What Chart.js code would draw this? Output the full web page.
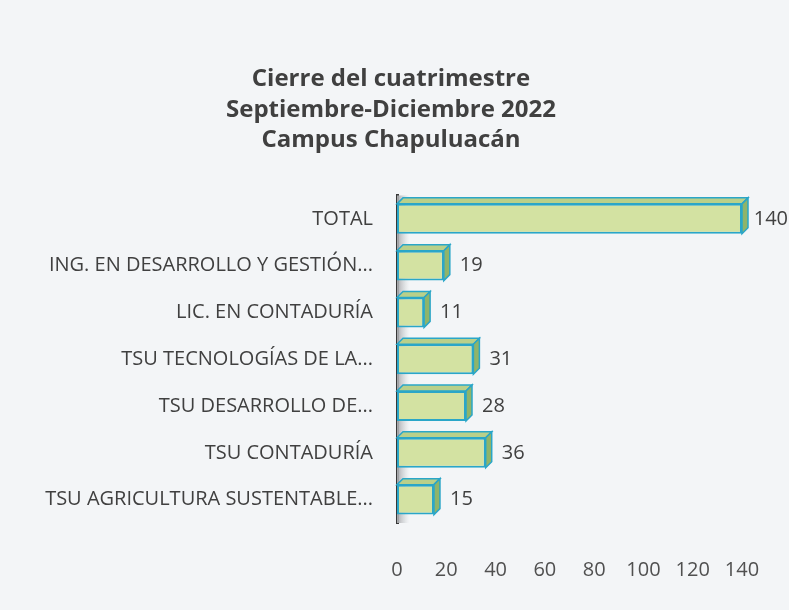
<!DOCTYPE html>
<html>
<head>
<meta charset="utf-8">
<script src="https://cdn.jsdelivr.net/npm/chart.js@4/dist/chart.umd.min.js"></script>
<style>
  body { margin: 0; background: #f3f5f7; }
  #wrap { width: 789px; height: 610px; }
</style>
</head>
<body>
<div id="wrap"><canvas id="chart-cierre" width="789" height="610"></canvas></div>
<script>
// categorias y valores
const carreras = [
    'TOTAL',
    'ING. EN DESARROLLO Y GESTIÓN...',
    'LIC. EN CONTADURÍA',
    'TSU TECNOLOGÍAS DE LA...',
    'TSU DESARROLLO DE...',
    'TSU CONTADURÍA',
    'TSU AGRICULTURA SUSTENTABLE...'
];
const alumnos = [140, 19, 11, 31, 28, 36, 15];
const titulo = ['Cierre del cuatrimestre', 'Septiembre-Diciembre 2022', 'Campus Chapuluacán'];
const ticksX = [0, 20, 40, 60, 80, 100, 120, 140];

const FUENTE = "'Open Sans', 'Noto Sans', sans-serif";
const prof = 6; // profundidad del efecto 3D

// pared gris junto al eje y caras laterales de las barras
const barras3d = {
    id: 'barras3d',
    beforeDatasetsDraw(chart) {
        const ctx = chart.ctx;
        const area = chart.chartArea;
        ctx.save();
        const g = ctx.createLinearGradient(area.left, 0, area.left + 12, 0);
        g.addColorStop(0, '#a9abae');
        g.addColorStop(1, 'rgba(200,202,205,0)');
        ctx.fillStyle = g;
        ctx.fillRect(area.left, area.top, 12, area.bottom - area.top);

        chart.getDatasetMeta(0).data.forEach(bar => {
            const p = bar.getProps(['x', 'y', 'base', 'height'], true);
            const x0 = p.base, x1 = p.x;
            const top = p.y - p.height / 2, bottom = p.y + p.height / 2;
            ctx.lineWidth = 1.5;
            ctx.strokeStyle = '#2aa6c8';
            // cara superior
            ctx.beginPath();
            ctx.moveTo(x0, top);
            ctx.lineTo(x0 + prof, top - prof);
            ctx.lineTo(x1 + prof, top - prof);
            ctx.lineTo(x1, top);
            ctx.closePath();
            ctx.fillStyle = '#b9d08a';
            ctx.fill();
            ctx.stroke();
            // cara derecha
            ctx.beginPath();
            ctx.moveTo(x1, top);
            ctx.lineTo(x1 + prof, top - prof);
            ctx.lineTo(x1 + prof, bottom - prof);
            ctx.lineTo(x1, bottom);
            ctx.closePath();
            ctx.fillStyle = '#8fb46a';
            ctx.fill();
            ctx.stroke();
        });
        ctx.restore();
    },
    afterDatasetsDraw(chart) {
        const ctx = chart.ctx;
        ctx.save();
        ctx.font = '20px ' + FUENTE;
        ctx.fillStyle = '#404040';
        ctx.textBaseline = 'middle';
        chart.getDatasetMeta(0).data.forEach((bar, i) => {
            const p = bar.getProps(['x', 'y'], true);
            const txt = String(alumnos[i]);
            // que no se salga del lienzo
            const x = Math.min(p.x + 16, chart.width - ctx.measureText(txt).width - 1);
            ctx.fillText(txt, x, p.y);
        });
        ctx.restore();
    }
};

const ctx = document.getElementById('chart-cierre').getContext('2d');

const chartCierre = new Chart(ctx, {
    type: 'bar',
    data: {
        labels: carreras,
        datasets: [{
            data: alumnos,
            backgroundColor: '#d3e2a2',
            borderColor: '#2aa6c8',
            borderWidth: 2,
            borderSkipped: false,
            barPercentage: 0.82,
            categoryPercentage: 0.78
        }]
    },
    options: {
        indexAxis: 'y',
        responsive: false,
        animation: false,
        layout: { padding: { top: 0, right: 47, bottom: 30, left: 40 } },
        plugins: {
            legend: { display: false },
            tooltip: { enabled: false },
            title: {
                display: true,
                text: titulo,
                color: '#404040',
                font: { family: FUENTE, size: 24, weight: 'bold', lineHeight: 1.27 },
                padding: { top: 64, bottom: 40 }
            }
        },
        scales: {
            x: {
                min: 0,
                max: 140,
                afterBuildTicks(scale) {
                    scale.ticks = ticksX.map(v => ({ value: v }));
                },
                afterFit(scale) {
                    scale.height = 57;
                    scale.paddingRight = 17;
                },
                grid: { display: false },
                border: { display: false },
                ticks: {
                    color: '#505050',
                    padding: 27,
                    maxRotation: 0,
                    minRotation: 0,
                    autoSkip: false,
                    font: { family: FUENTE, size: 20 }
                }
            },
            y: {
                afterFit(scale) { scale.width = 357; },
                grid: { display: false },
                border: { display: true, color: '#383838', width: 3 },
                ticks: {
                    color: '#404040',
                    padding: 16,
                    font: { family: FUENTE, size: 20 }
                }
            }
        }
    },
    plugins: [barras3d]
});
</script>
</body>
</html>
